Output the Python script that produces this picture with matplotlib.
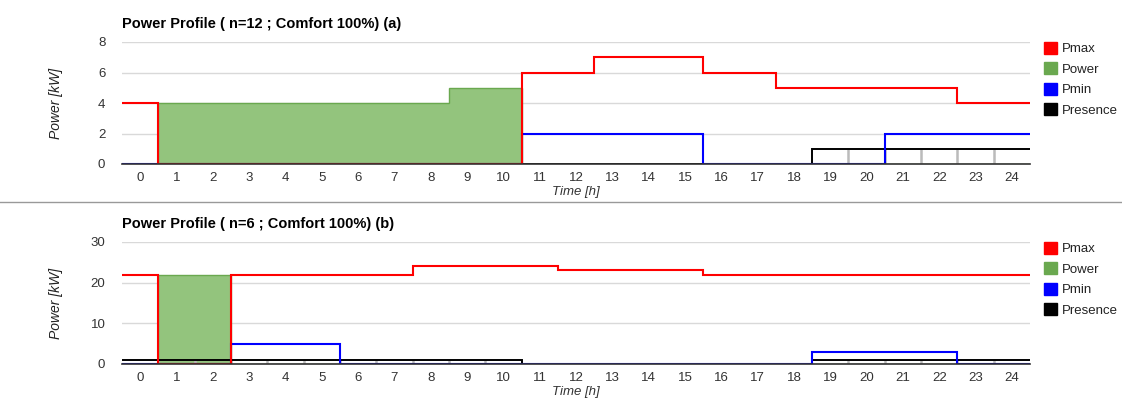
import numpy as np
import matplotlib.pyplot as plt
from matplotlib.patches import Patch
from matplotlib.lines import Line2D

plt.rcParams['font.family'] = ['Liberation Sans', 'DejaVu Sans']

hours = list(range(25))

# chart (a)
pmax_a = [4, 0, 0, 0, 0, 0, 0, 0, 0, 0, 0, 6, 6, 7, 7, 7, 6, 6, 5, 5, 5, 5, 5, 4, 4]
power_a = [0, 4, 4, 4, 4, 4, 4, 4, 4, 5, 5, 0, 0, 0, 0, 0, 0, 0, 0, 0, 0, 0, 0, 0, 0]
pmin_a = [0, 0, 0, 0, 0, 0, 0, 0, 0, 0, 0, 2, 2, 2, 2, 2, 0, 0, 0, 0, 0, 2, 2, 2, 2]
presence_a = [0, 0, 0, 0, 0, 0, 0, 0, 0, 0, 0, 0, 0, 0, 0, 0, 0, 0, 0, 1, 1, 1, 1, 1, 1]

# chart (b)
pmax_b = [22, 0, 0, 22, 22, 22, 22, 22, 24, 24, 24, 24, 23, 23, 23, 23, 22, 22, 22, 22, 22, 22, 22, 22, 22]
power_b = [0, 22, 22, 0, 0, 0, 0, 0, 0, 0, 0, 0, 0, 0, 0, 0, 0, 0, 0, 0, 0, 0, 0, 0, 0]
pmin_b = [0, 0, 0, 5, 5, 5, 0, 0, 0, 0, 0, 0, 0, 0, 0, 0, 0, 0, 0, 3, 3, 3, 3, 0, 0]
presence_b = [1, 1, 1, 1, 1, 1, 1, 1, 1, 1, 1, 0, 0, 0, 0, 0, 0, 0, 0, 1, 1, 1, 1, 1, 1]

panels = [
    ("Power Profile ( n=12 ; Comfort 100%) (a)", pmax_a, power_a, pmin_a, presence_a, 8, [0, 2, 4, 6, 8]),
    ("Power Profile ( n=6 ; Comfort 100%) (b)", pmax_b, power_b, pmin_b, presence_b, 30, [0, 10, 20, 30]),
]

W, H = 1122, 398
fig = plt.figure(figsize=(W / 100, H / 100), dpi=100)
edges = np.arange(-0.5, 25, 1)
grid_c = '#d9d9d9'

# plot areas in pixels: left, top, right, bottom
boxes = [(122, 42, 1030, 164), (122, 242, 1030, 364)]

for (l, t, r, b), (title, pmax, power, pmin, presence, ymax, yt) in zip(boxes, panels):
    ax = fig.add_axes([l / W, 1 - b / H, (r - l) / W, (b - t) / H])
    ax.stairs(power, edges, baseline=0, fill=True, facecolor='#93c47d', edgecolor='#6aa84f', lw=1, zorder=2)
    ax.stairs(presence, edges, baseline=None, color='black', lw=1.4, zorder=3)
    # light separators inside presence blocks
    for i in range(1, 25):
        if presence[i] and presence[i - 1]:
            ax.vlines(edges[i], 0, presence[i], color='#bbbbbb', lw=1.8, zorder=2.5)
    ax.stairs(pmin, edges, baseline=None, color='#0000ff', lw=1.5, zorder=4)
    ax.stairs(pmax, edges, baseline=None, color='#ff0000', lw=1.5, zorder=5)
    ax.set_xlim(-0.5, 24.5)
    ax.set_ylim(0, ymax)
    ax.set_xticks(hours)
    ax.set_yticks(yt)
    ax.tick_params(length=0, labelsize=9.5, colors='#333333')
    ax.tick_params(axis='y', pad=12)
    ax.tick_params(axis='x', pad=6)
    ax.grid(axis='y', color=grid_c, lw=1)
    ax.set_axisbelow(True)
    for s in ['top', 'right', 'left']:
        ax.spines[s].set_visible(False)
    ax.spines['bottom'].set_color('#333333')
    ax.spines['bottom'].set_linewidth(1.2)
    ax.spines['bottom'].set_zorder(6)
    ax.set_title(title, loc='left', fontsize=10.5, fontweight='bold', pad=10)
    ax.set_ylabel("Power [kW]", fontsize=10, style='italic', color='#222222')
    ax.yaxis.set_label_coords((63 - l) / (r - l), 0.5)
    ax.set_xlabel("Time [h]", fontsize=9.5, style='italic', color='#333333', labelpad=1)

    handles = [Patch(color='#ff0000'), Patch(color='#6aa84f'), Patch(color='#0000ff'), Patch(color='black')]
    fig.legend(handles, ['Pmax', 'Power', 'Pmin', 'Presence'], loc='upper left',
               bbox_to_anchor=(1037 / W, 1 - (t - 7) / H), frameon=False, fontsize=9.5,
               borderpad=0, handlelength=1.05, handleheight=1.05, handletextpad=0.35,
               labelspacing=0.52, labelcolor='#222222')

fig.add_artist(Line2D([0, 1], [1 - 202 / H] * 2, color='#999999', lw=1))

fig.savefig('out.png', dpi=100)
